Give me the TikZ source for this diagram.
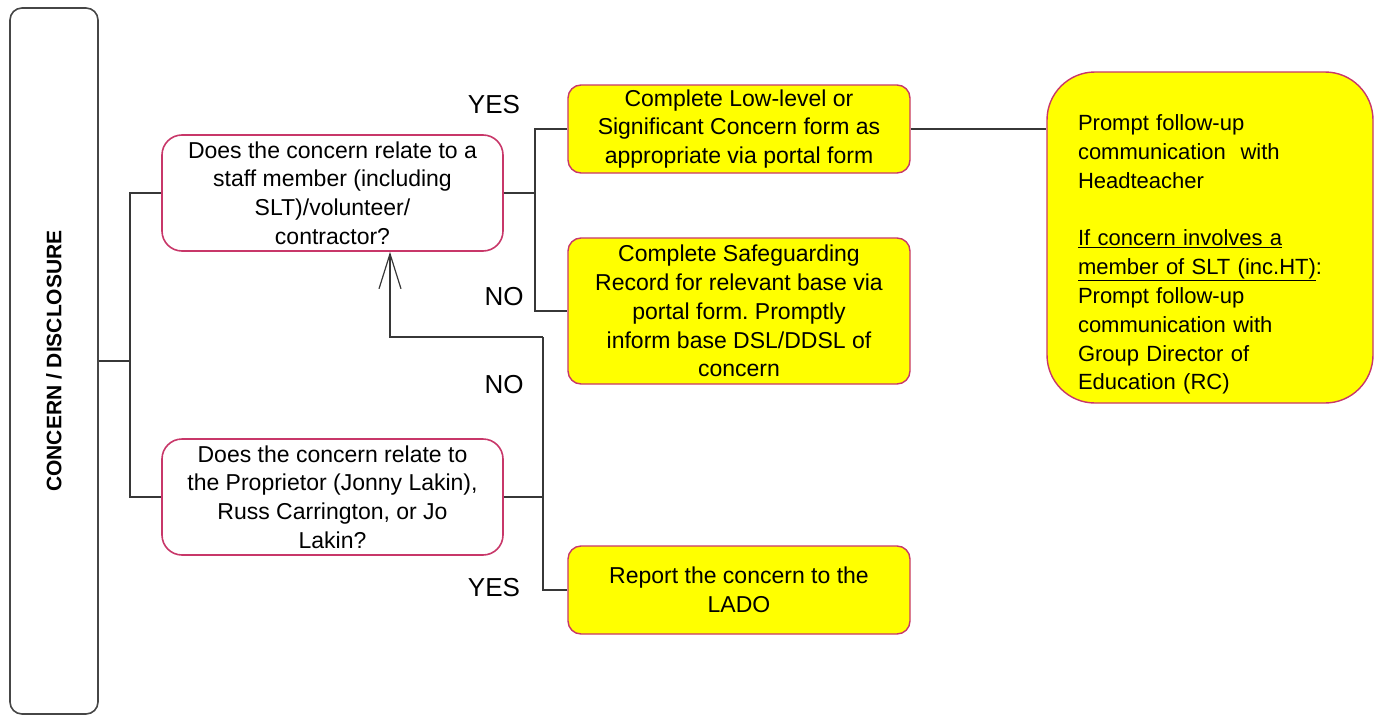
\documentclass[tikz,border=0pt]{standalone}
\usepackage{fontspec}
\setmainfont{Liberation Sans}
\usepackage{tikz}
\usetikzlibrary{arrows.meta}
\frenchspacing
\definecolor{FrameColor}{RGB}{200, 55, 105}
\definecolor{ActionFill}{RGB}{255, 255, 0}
\definecolor{LineColor}{RGB}{55, 55, 55}
\definecolor{SideColor}{RGB}{70, 70, 70}
\tikzset{
    sidebar/.style={
        draw=SideColor,
        line width=1.6pt,
        rounded corners=12pt,
        rotate=90,
        minimum width=706,
        minimum height=88,
        font=\fontsize{21}{24}\selectfont\bfseries
    },
    question/.style={
        draw=FrameColor,
        line width=1.6pt,
        fill=white,
        rounded corners=20pt,
        align=center,
        minimum width=341,
        minimum height=116,
        inner sep=0pt,
        font=\fontsize{23}{28.8}\selectfont
    },
    action/.style={
        draw=FrameColor,
        line width=1.4pt,
        fill=ActionFill,
        rounded corners=13pt,
        align=center,
        minimum width=342,
        minimum height=88,
        inner sep=0pt,
        font=\fontsize{23}{28.8}\selectfont
    },
    outcome/.style={
        draw=FrameColor,
        line width=1.4pt,
        fill=ActionFill,
        rounded corners=48pt,
        align=left,
        text width=264,
        minimum width=326,
        minimum height=331,
        inner sep=0pt,
        font=\fontsize{22}{28.8}\selectfont
    },
    answer/.style={
        font=\fontsize{26}{30}\selectfont,
        inner sep=0pt
    },
    link/.style={
        draw=LineColor,
        line width=1.5pt
    }
}

\begin{document}
\begin{tikzpicture}[x=1pt, y=-1pt]

    \useasboundingbox (0,0) rectangle (1375,717);

    % ============================================================================
    % NODES
    % ============================================================================

    % Left bar
    \node[sidebar] (Sidebar) at (54,361) {CONCERN / DISCLOSURE};

    % Questions
    \node[question] (StaffQ) at (332.5,193) {
        Does the concern relate to a \\
        staff member (including \\
        SLT)/volunteer/ \\
        contractor?
    };

    \node[question] (ProprietorQ) at (332.5,497) {
        Does the concern relate to \\
        the Proprietor (Jonny Lakin), \\
        Russ Carrington, or Jo \\
        Lakin?
    };

    % Actions
    \node[action] (ConcernForm) at (739,129) {
        Complete Low-level or \\
        Significant Concern form as \\
        appropriate via portal form
    };

    \node[action, minimum height=146] (SafeRecord) at (739,311) {
        Complete Safeguarding \\
        Record for relevant base via \\
        portal form. Promptly \\
        inform base DSL/DDSL of \\
        concern
    };

    \node[action] (ReportLado) at (739,590) {
        Report the concern to the \\
        LADO
    };

    % Follow-up
    \node[outcome] (FollowUp) at (1210,237.5) {
        \rule{0pt}{50pt}Prompt follow-up \\
        communication\ \ with \\
        Headteacher \\[28.8pt]
        \underline{If concern involves a} \\
        \underline{member of SLT (inc.HT)}: \\
        Prompt follow-up \\
        communication with \\
        Group Director of \\
        Education (RC)
    };

    % Answers
    \node[answer] (YesTop) at (494,105) {YES};
    \node[answer] (NoTop) at (504,297) {NO};
    \node[answer] (NoBottom) at (504,385) {NO};
    \node[answer] (YesBottom) at (494,588) {YES};

    % ============================================================================
    % CONNECTORS
    % ============================================================================

    \coordinate (SplitLeft) at (130,361);
    \coordinate (SplitStaff) at (535,193);
    \coordinate (SplitProp) at (543,497);
    \coordinate (LoopCorner) at (543,337);
    \coordinate (LoopTop) at (390,337);

    % Concern to both questions
    \draw[link] (Sidebar.south) -- (SplitLeft);
    \draw[link] (StaffQ.west) -| (SplitLeft) |- (ProprietorQ.west);

    % Staff question: YES / NO
    \draw[link] (StaffQ.east) -- (SplitStaff);
    \draw[link] (ConcernForm.west) -| (SplitStaff) |- (SafeRecord.west);

    % Low-level form to follow-up
    \draw[link] (ConcernForm.east) -- (ConcernForm.east -| FollowUp.west);

    % Proprietor question: YES to LADO, NO back up
    \draw[link] (ProprietorQ.east) -- (SplitProp);
    \draw[link] (ReportLado.west) -| (SplitProp) -- (LoopCorner);
    \draw[link, -{Straight Barb[length=35pt, width=22pt, line width=1.2pt]}]
        (LoopCorner) -- (LoopTop) -- (LoopTop |- StaffQ.south);

\end{tikzpicture}
\end{document}
